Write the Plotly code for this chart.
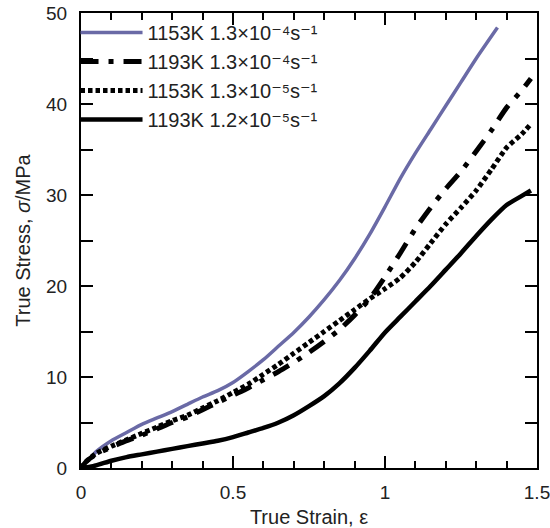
import plotly.graph_objects as go

# ---- data ----
blue_x = [0.03, 0.05, 0.1, 0.15, 0.2, 0.25, 0.3, 0.35, 0.4, 0.45, 0.5, 0.55, 0.6, 0.65, 0.7,
          0.75, 0.8, 0.85, 0.9, 0.95, 1.0, 1.05, 1.1, 1.15, 1.2, 1.25, 1.3, 1.37]
blue_y = [1.0, 1.8, 3.0, 3.9, 4.8, 5.5, 6.2, 7.0, 7.8, 8.5, 9.4, 10.6, 11.9, 13.4, 14.9,
          16.6, 18.5, 20.6, 23.0, 25.7, 28.7, 31.8, 34.6, 37.2, 39.8, 42.4, 45.0, 48.4]

dd_x = [0.0, 0.02, 0.05, 0.1, 0.15, 0.2, 0.25, 0.3, 0.35, 0.4, 0.45, 0.5, 0.55, 0.6, 0.65, 0.7,
        0.75, 0.8, 0.85, 0.9, 0.95, 1.0, 1.05, 1.1, 1.15, 1.2, 1.25, 1.3, 1.35, 1.4, 1.45, 1.48]
dd_y = [0.0, 0.8, 1.5, 2.3, 3.0, 3.6, 4.3, 5.0, 5.6, 6.4, 7.2, 8.0, 8.8, 9.7, 10.6, 11.6,
        12.7, 13.9, 15.2, 16.8, 18.6, 21.0, 23.6, 26.3, 28.6, 30.7, 32.6, 34.8, 37.1, 39.6, 41.5, 42.8]

dot_x = [0.0, 0.02, 0.05, 0.1, 0.15, 0.2, 0.25, 0.3, 0.35, 0.4, 0.45, 0.5, 0.55, 0.6, 0.65, 0.7,
         0.75, 0.8, 0.85, 0.9, 0.95, 1.0, 1.05, 1.1, 1.15, 1.2, 1.25, 1.3, 1.35, 1.4, 1.45, 1.48]
dot_y = [0.0, 0.8, 1.6, 2.4, 3.1, 3.8, 4.5, 5.2, 5.8, 6.6, 7.4, 8.3, 9.2, 10.3, 11.4, 12.6,
         13.8, 15.0, 16.2, 17.4, 18.6, 19.7, 20.9, 22.6, 24.7, 26.8, 28.6, 30.5, 32.8, 35.2, 36.7, 37.8]

sol_x = [0.0, 0.04, 0.1, 0.15, 0.2, 0.25, 0.3, 0.35, 0.4, 0.45, 0.5, 0.55, 0.6, 0.65, 0.7,
         0.75, 0.8, 0.85, 0.9, 0.95, 1.0, 1.05, 1.1, 1.15, 1.2, 1.25, 1.3, 1.35, 1.4, 1.45, 1.48]
sol_y = [0.0, 0.2, 0.8, 1.2, 1.5, 1.8, 2.1, 2.4, 2.7, 3.0, 3.4, 3.9, 4.4, 5.0, 5.8,
         6.8, 7.9, 9.3, 11.0, 12.9, 14.9, 16.6, 18.3, 20.0, 21.8, 23.6, 25.5, 27.3, 28.9, 29.9, 30.5]

names = [
    "1153K 1.3\u00d710\u207b\u2074s\u207b\u00b9",
    "1193K 1.3\u00d710\u207b\u2074s\u207b\u00b9",
    "1153K 1.3\u00d710\u207b\u2075s\u207b\u00b9",
    "1193K 1.2\u00d710\u207b\u2075s\u207b\u00b9",
]

FONT = "Liberation Sans, Arial, DejaVu Sans, sans-serif"

fig = go.Figure()
fig.add_trace(go.Scatter(x=blue_x, y=blue_y, mode="lines", name=names[0],
                         line=dict(color="#6a6aa6", width=3.5, shape="spline", smoothing=0.6)))
fig.add_trace(go.Scatter(x=dd_x, y=dd_y, mode="lines", name=names[1],
                         line=dict(color="black", width=5, dash="18px,10px,5px,10px",
                                   shape="spline", smoothing=0.6)))
fig.add_trace(go.Scatter(x=dot_x, y=dot_y, mode="lines", name=names[2],
                         line=dict(color="black", width=5, dash="4.5px,3px",
                                   shape="spline", smoothing=0.6)))
fig.add_trace(go.Scatter(x=sol_x, y=sol_y, mode="lines", name=names[3],
                         line=dict(color="black", width=4.5, shape="spline", smoothing=0.6)))

axis_common = dict(
    showline=True, linecolor="black", linewidth=2, mirror="ticks",
    ticks="inside", tickcolor="black", tickwidth=2, ticklen=12,
    showgrid=False, zeroline=False, automargin=False, ticklabeloverflow="allow",
    tickfont=dict(family=FONT, size=19, color="#222"),
)

fig.update_xaxes(range=[0, 1.5], tickvals=[0, 0.5, 1, 1.5], ticktext=["0", "0.5", "1", "1.5"],
                 minor=dict(dtick=0.1, ticks="inside", ticklen=7, tickcolor="black", tickwidth=2),
                 title=dict(text="True Strain, \u03b5", font=dict(family=FONT, size=20, color="#222"),
                            standoff=12),
                 ticklabelstandoff=6,
                 **axis_common)
fig.update_yaxes(range=[0, 50], tickvals=[0, 10, 20, 30, 40, 50],
                 minor=dict(dtick=5, ticks="inside", ticklen=12, tickcolor="black", tickwidth=2),
                 title=dict(text="True Stress, <i>\u03c3</i>/MPa", font=dict(family=FONT, size=20, color="#222"),
                            standoff=10),
                 ticklabelstandoff=8,
                 **axis_common)

fig.update_layout(
    width=550, height=528,
    margin=dict(l=81, r=13, t=13, b=60),
    paper_bgcolor="white", plot_bgcolor="white",
    showlegend=True,
    legend=dict(x=-0.012, y=1.0, xanchor="left", yanchor="top",
                bgcolor="rgba(0,0,0,0)", borderwidth=0,
                font=dict(family=FONT, size=20, color="#222"),
                itemwidth=62, tracegroupgap=0),
)

# remove the default 8px page margin so the figure fills the 550x528 window exactly
fig.write_html("out.html", config={"displayModeBar": False},
               post_script="document.body.style.margin='0px';")
